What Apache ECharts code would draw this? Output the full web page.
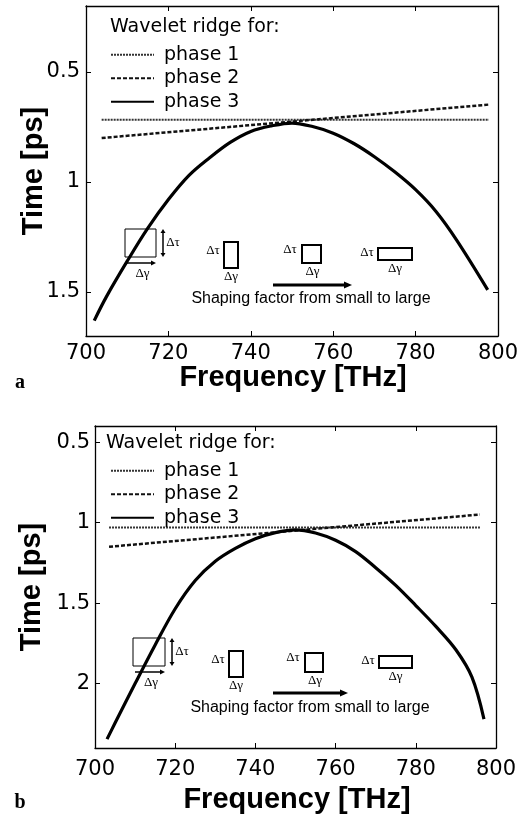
<!DOCTYPE html>
<html>
<head>
<meta charset="utf-8">
<script src="https://cdn.jsdelivr.net/npm/echarts@6/dist/echarts.min.js"></script>
<style>html,body{margin:0;padding:0;background:#fff;}#c{width:531px;height:816px;}</style>
</head>
<body>
<div id="c"></div>
<script>
// ---- data: panel a ----
const freqA12 = [703.8, 797.8];
const timeA1 = [0.717, 0.717];
const timeA2 = [0.80, 0.648];
const freqA3 = [702, 705, 710, 715, 720, 725, 730, 735, 740, 745, 750, 755, 760, 765, 770, 775, 780, 785, 790, 797.5];
const timeA3 = [1.63, 1.52, 1.36, 1.21, 1.08, 0.97, 0.89, 0.82, 0.77, 0.745, 0.732, 0.748, 0.778, 0.825, 0.885, 0.955, 1.035, 1.135, 1.265, 1.49];
// ---- data: panel b ----
const freqB12 = [703.5, 796];
const timeB1 = [1.03, 1.03];
const timeB2 = [1.15, 0.95];
const freqB3 = [703, 705, 710, 715, 720, 725, 730, 735, 740, 745, 750, 755, 760, 765, 770, 775, 780, 785, 790, 794, 797];
const timeB3 = [2.345, 2.245, 2.0, 1.76, 1.535, 1.36, 1.24, 1.16, 1.10, 1.062, 1.045, 1.065, 1.11, 1.18, 1.28, 1.39, 1.515, 1.645, 1.79, 1.96, 2.22];
// ---- axis ticks / labels ----
const xTicks = [700, 720, 740, 760, 780, 800];
const yTicksA = [0.5, 1, 1.5];
const yTicksB = [0.5, 1, 1.5, 2];
const seriesNames = ['phase 1', 'phase 2', 'phase 3'];
const legendTitle = 'Wavelet ridge for:';
const shapingText = 'Shaping factor from small to large';

const zip = (a, b) => a.map((v, i) => [v, b[i]]);
const chart = echarts.init(document.getElementById('c'), null, {renderer: 'canvas'});

const tickFont = {fontFamily: 'DejaVu Sans', fontSize: 21, color: '#000'};
function xAxes(grid, margin) {
  return [
    {gridIndex: grid, type: 'value', min: 700, max: 800, interval: 20, position: 'bottom',
      axisLine: {show: true, onZero: false, lineStyle: {color: '#000', width: 1.3}},
      axisTick: {show: true, inside: true, length: 5, lineStyle: {color: '#000'}},
      axisLabel: Object.assign({show: true, margin: margin}, tickFont),
      splitLine: {show: false}},
    {gridIndex: grid, type: 'value', min: 700, max: 800, interval: 20, position: 'top',
      axisLine: {show: true, onZero: false, lineStyle: {color: '#000', width: 1.3}},
      axisTick: {show: true, inside: true, length: 5, lineStyle: {color: '#000'}},
      axisLabel: {show: false}, splitLine: {show: false}}
  ];
}
function yAxes(grid, min, max, ticks, margin) {
  return [
    {gridIndex: grid, type: 'value', min: min, max: max, inverse: true, position: 'left',
      axisLine: {show: true, onZero: false, lineStyle: {color: '#000', width: 1.3}},
      axisTick: {show: true, inside: true, length: 5, customValues: ticks, lineStyle: {color: '#000'}},
      axisLabel: Object.assign({show: true, margin: margin, customValues: ticks}, tickFont),
      splitLine: {show: false}},
    {gridIndex: grid, type: 'value', min: min, max: max, inverse: true, position: 'right',
      axisLine: {show: true, onZero: false, lineStyle: {color: '#000', width: 1.3}},
      axisTick: {show: true, inside: true, length: 5, customValues: ticks, lineStyle: {color: '#000'}},
      axisLabel: {show: false}, splitLine: {show: false}}
  ];
}
const styles = [
  {type: [2, 1], width: 2, color: '#333'},
  {type: [4, 2], width: 2.5, color: '#111'},
  {type: 'solid', width: 3.2, color: '#000'}
];
function mkSeries(name, xi, yi, data, st, smooth) {
  return {name: name, type: 'line', xAxisIndex: xi, yAxisIndex: yi, data: data, color: '#000',
    itemStyle: {color: '#000'},
    showSymbol: false, symbol: 'none', smooth: smooth, lineStyle: st, silent: true, animation: false};
}
const series = [
  mkSeries(seriesNames[0], 0, 0, zip(freqA12, timeA1), styles[0], false),
  mkSeries(seriesNames[1], 0, 0, zip(freqA12, timeA2), styles[1], false),
  mkSeries(seriesNames[2], 0, 0, zip(freqA3, timeA3), styles[2], 0.35),
  mkSeries(seriesNames[0], 2, 2, zip(freqB12, timeB1), styles[0], false),
  mkSeries(seriesNames[1], 2, 2, zip(freqB12, timeB2), styles[1], false),
  mkSeries(seriesNames[2], 2, 2, zip(freqB3, timeB3), styles[2], 0.35)
];

// graphic helpers
const SERIF = 'Liberation Serif';
function txt(x, y, s, font, extra) {
  return Object.assign({type: 'text', x: x, y: y, silent: true,
    style: Object.assign({text: s, fill: '#000', align: 'center', verticalAlign: 'middle'}, font)}, extra || {});
}
function rect(x, y, w, h, lw) {
  return {type: 'rect', shape: {x: x, y: y, width: w, height: h}, silent: true,
    style: {fill: 'none', stroke: '#000', lineWidth: lw}};
}
function line(x1, y1, x2, y2, lw) {
  return {type: 'line', shape: {x1: x1, y1: y1, x2: x2, y2: y2}, silent: true,
    style: {stroke: '#000', lineWidth: lw}};
}
function tri(pts) {
  return {type: 'polygon', shape: {points: pts}, silent: true, style: {fill: '#000'}};
}
function arrowRight(x1, x2, y, lw, hl, hw) {
  return [line(x1, y, x2 - hl + 1, y, lw), tri([[x2, y], [x2 - hl, y - hw], [x2 - hl, y + hw]])];
}
function arrowVert2(x, y1, y2, lw, hl, hw) {
  return [line(x, y1 + hl - 1, x, y2 - hl + 1, lw),
    tri([[x, y1], [x - hw, y1 + hl], [x + hw, y1 + hl]]),
    tri([[x, y2], [x - hw, y2 - hl], [x + hw, y2 - hl]])];
}
const dFont = {fontFamily: SERIF, fontSize: 13};
const sFont = {fontFamily: 'Liberation Sans', fontSize: 16};
const titleFont = {fontFamily: 'Liberation Sans', fontSize: 29, fontWeight: 'bold'};
const legFont = {fontFamily: 'DejaVu Sans', fontSize: 19};

function annotations(o) {
  const g = [];
  g.push(rect(o.b1[0], o.b1[1], o.b1[2], o.b1[3], 1));
  g.push(...arrowVert2(o.b1[0] + o.b1[2] + 7, o.b1[1], o.b1[1] + o.b1[3], 1.5, 4, 2.5));
  g.push(txt(o.b1[0] + o.b1[2] + 17, o.b1[1] + o.b1[3] / 2, 'Δτ', dFont));
  g.push(...arrowRight(o.b1[0] + 2, o.b1[0] + o.b1[2], o.b1[1] + o.b1[3] + 6, 1.5, 5, 2.5));
  g.push(txt(o.b1[0] + o.b1[2] / 2 + 2, o.b1[1] + o.b1[3] + 17, 'Δγ', dFont));
  g.push(rect(o.b2[0], o.b2[1], o.b2[2], o.b2[3], 2));
  g.push(txt(o.b2[0] - 11, o.b2[1] + o.b2[3] / 2 - 4, 'Δτ', dFont));
  g.push(txt(o.b2[0] + o.b2[2] / 2, o.b2[1] + o.b2[3] + 9, 'Δγ', dFont));
  g.push(rect(o.b3[0], o.b3[1], o.b3[2], o.b3[3], 2));
  g.push(txt(o.b3[0] - 12, o.b3[1] + 5, 'Δτ', dFont));
  g.push(txt(o.b3[0] + o.b3[2] / 2 + 1, o.b3[1] + o.b3[3] + 9, 'Δγ', dFont));
  g.push(rect(o.b4[0], o.b4[1], o.b4[2], o.b4[3], 2));
  g.push(txt(o.b4[0] - 11, o.b4[1] + 5, 'Δτ', dFont));
  g.push(txt(o.b4[0] + o.b4[2] / 2, o.b4[1] + o.b4[3] + 9, 'Δγ', dFont));
  g.push(...arrowRight(o.arr[0], o.arr[1], o.arr[2], 3, 8, 3.5));
  g.push(txt(o.txt[0], o.txt[1], shapingText, sFont));
  return g;
}
function leftText(x, y, s, font) {
  return {type: 'text', x: x, y: y, silent: true,
    style: Object.assign({text: s, fill: '#000', align: 'left', verticalAlign: 'middle'}, font)};
}

const graphic = [].concat(
  [leftText(110, 27, legendTitle, legFont)],
  annotations({b1: [125, 229, 31, 28], b2: [224, 242, 14, 26], b3: [302, 245, 19, 18], b4: [378, 248, 34, 12],
    arr: [273, 352, 285], txt: [311, 299]}),
  [txt(293, 378, 'Frequency [THz]', titleFont),
   txt(34, 171, 'Time [ps]', titleFont, {rotation: Math.PI / 2}),
   txt(20, 383, 'a', {fontFamily: SERIF, fontSize: 20, fontWeight: 'bold'})],
  [leftText(106, 443, legendTitle, legFont)],
  annotations({b1: [133, 638, 32, 28], b2: [229, 651, 14, 26], b3: [305, 653, 18, 19], b4: [379, 656, 33, 12],
    arr: [273, 348, 693], txt: [310, 708]}),
  [txt(297, 800, 'Frequency [THz]', titleFont),
   txt(32, 587, 'Time [ps]', titleFont, {rotation: Math.PI / 2}),
   txt(20, 803, 'b', {fontFamily: SERIF, fontSize: 20, fontWeight: 'bold'})]
);

function legendAt(left, top) {
  return {orient: 'vertical', left: left, top: top, data: seriesNames, itemWidth: 43, itemHeight: 12,
    itemGap: 4, padding: 0, selectedMode: false,
    itemStyle: {opacity: 0},
    textStyle: Object.assign({color: '#000', lineHeight: 19.5, padding: [0, 0, 0, 5]}, legFont)};
}

chart.setOption({
  animation: false,
  backgroundColor: '#fff',
  color: ['#000', '#000', '#000'],
  grid: [
    {left: 86, top: 6, width: 412, height: 330, show: false},
    {left: 95, top: 426, width: 401, height: 322, show: false}
  ],
  xAxis: [].concat(xAxes(0, 7), xAxes(1, 11)),
  yAxis: [].concat(yAxes(0, 0.2, 1.7, yTicksA, 6), yAxes(1, 0.4, 2.4, yTicksB, 5)),
  legend: [legendAt(110, 45), legendAt(110, 461)],
  series: series,
  graphic: graphic
});
</script>
</body>
</html>
